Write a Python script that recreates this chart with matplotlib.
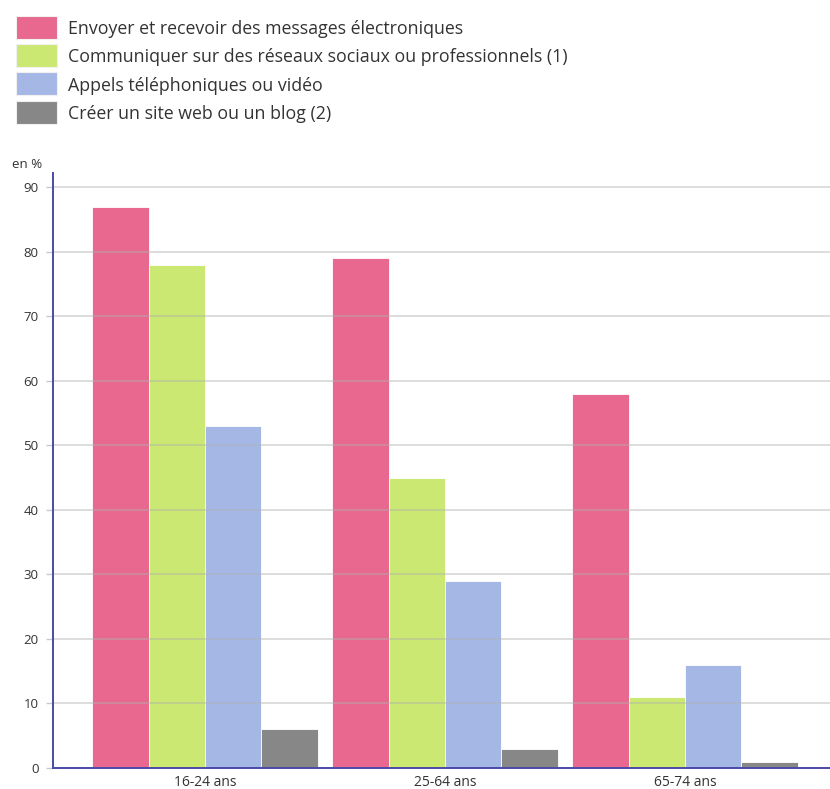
import numpy as np
import matplotlib.pyplot as plt
from matplotlib.patches import Rectangle

plt.rcParams['font.family'] = ['Open Sans', 'DejaVu Sans']

# tranches d'âge et pourcentages par usage
groupes = ['16-24 ans', '25-64 ans', '65-74 ans']
series = [
    'Envoyer et recevoir des messages électroniques',
    'Communiquer sur des réseaux sociaux ou professionnels (1)',
    'Appels téléphoniques ou vidéo',
    'Créer un site web ou un blog (2)',
]
messages = [87, 79, 58]
reseaux = [78, 45, 11]
appels = [53, 29, 16]
site_web = [6, 3, 1]
couleurs = ['#e8688f', '#cbe873', '#a5b8e5', '#878787']

valeurs = [messages, reseaux, appels, site_web]

W, H = 830, 789
fig = plt.figure(figsize=(W / 100, H / 100), dpi=100)
ax = fig.add_axes([53 / W, 1 - 768 / H, 1 - 53 / W, (768 - 173) / H])

x = np.arange(len(groupes))
largeur = 0.235
for i, (vals, coul) in enumerate(zip(valeurs, couleurs)):
    ax.bar(x + (i - 1.5) * largeur, vals, largeur, color=coul,
           edgecolor='#ffffff', linewidth=0.6, zorder=2)

ax.set_xlim(-0.633, 2.604)
ax.set_ylim(0, 92.2)
ax.set_yticks(range(0, 100, 10))
ax.set_xticks(x)
ax.set_xticklabels(groupes)
ax.tick_params(axis='y', length=5, width=1, color='#c8c8c8', labelsize=9.5,
               labelcolor='#333333', pad=5.5)
ax.tick_params(axis='x', length=0, labelsize=10, labelcolor='#333333', pad=5)

# quadrillage par-dessus les barres, légèrement visible
ax.grid(axis='y', color='#b0b0b0', linewidth=1.2, alpha=0.5, zorder=3)
ax.set_axisbelow(False)

for s in ['top', 'right']:
    ax.spines[s].set_visible(False)
for s in ['left', 'bottom']:
    ax.spines[s].set_color('#4a4aa8')
    ax.spines[s].set_linewidth(1.4)
    ax.spines[s].set_zorder(4)

fig.text(12 / W, 1 - 164 / H, 'en %', fontsize=9.5, color='#333333',
         va='center', ha='left')

# légende dessinée à la main en haut à gauche
for i, (nom, coul) in enumerate(zip(series, couleurs)):
    yc = 27 + i * 28.4
    fig.patches.append(Rectangle((16 / W, 1 - (yc + 11.5) / H), 41 / W, 23 / H,
                                 transform=fig.transFigure, facecolor=coul,
                                 edgecolor='#f0f0f0', linewidth=0.8))
    fig.text(68 / W, 1 - yc / H, nom, fontsize=12.8, color='#333333',
             va='center_baseline', ha='left')

fig.savefig('out.png', dpi=100)
